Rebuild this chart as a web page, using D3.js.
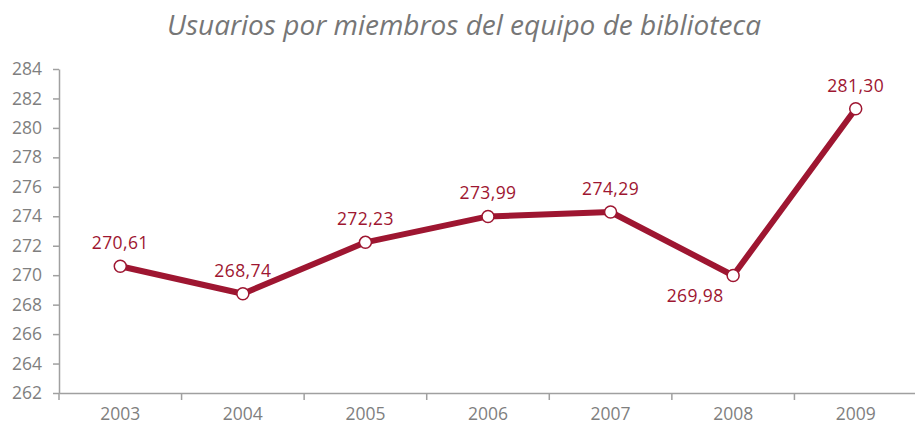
<!DOCTYPE html>
<html><head><meta charset="utf-8">
<script src="https://cdn.jsdelivr.net/npm/d3@7"></script>
<style>body{margin:0;background:#fff}</style>
</head><body>
<script>
const years = ["2003","2004","2005","2006","2007","2008","2009"];
const values = [270.61, 268.74, 272.23, 273.99, 274.29, 269.98, 281.30];
const labelPos = ["above","above","above","above","above","below-left","above"];
const yTicks = [262,264,266,268,270,272,274,276,278,280,282,284];
const title = "Usuarios por miembros del equipo de biblioteca";

const W = 915, H = 426;
const svg = d3.select("body").append("svg").attr("width", W).attr("height", H);
const x = d3.scaleBand().domain(years).range([59, 917]);
const y = d3.scaleLinear().domain([262, 284]).range([393, 69]);
const red = "#9e1631", grey = "#7f7f7f", axisC = "#a0a0a0";
const font = "'Open Sans', sans-serif";

svg.append("text").attr("x", 464).attr("y", 35).attr("text-anchor","middle")
  .attr("font-family", font).attr("font-style","italic").attr("font-size", 28)
  .attr("fill", "#767676").text(title);

const ya = svg.append("g").attr("transform","translate(59,0)")
  .call(d3.axisLeft(y).tickValues(yTicks).tickSize(6).tickSizeOuter(0).tickPadding(11));
ya.select(".domain").attr("stroke", axisC).attr("stroke-width",1.5);
ya.selectAll(".tick line").attr("stroke", axisC).attr("stroke-width",1.5);
ya.selectAll("text").attr("font-family", font).attr("font-size", 17.5).attr("fill", grey);

const xa = svg.append("g").attr("transform","translate(0,393)")
  .call(d3.axisBottom(x).tickSize(0).tickPadding(15));
xa.select(".domain").attr("stroke", axisC).attr("stroke-width",1.5);
xa.selectAll("text").attr("font-family", font).attr("font-size", 17.5).attr("fill", grey);
const bounds = years.map(d => x(d));
xa.selectAll(".bt").data(bounds).enter().append("line")
  .attr("x1", d=>d).attr("x2", d=>d).attr("y1", 0).attr("y2", 7)
  .attr("stroke", axisC).attr("stroke-width",1.5);

const cx = d => x(d) + x.bandwidth()/2;
const data = years.map((d,i)=>({year:d, v:values[i], pos:labelPos[i]}));
svg.append("path").datum(data)
  .attr("d", d3.line().x(d=>cx(d.year)).y(d=>y(d.v)))
  .attr("fill","none").attr("stroke", red).attr("stroke-width",6).attr("stroke-linejoin","round");
svg.selectAll(".pt").data(data).enter().append("circle")
  .attr("cx", d=>cx(d.year)).attr("cy", d=>y(d.v)).attr("r", 6)
  .attr("fill","#fff").attr("stroke", red).attr("stroke-width",1.5);
svg.selectAll(".lb").data(data).enter().append("text")
  .attr("x", d=>cx(d.year) + (d.pos==="below-left" ? -38 : 0))
  .attr("y", d=> d.pos==="above" ? y(d.v)-17 : y(d.v)+27)
  .attr("text-anchor","middle").attr("font-family", font).attr("font-size", 17.5)
  .attr("letter-spacing", 0.4)
  .attr("fill", red).text(d=>d.v.toFixed(2).replace(".", ","));
</script>
</body></html>
